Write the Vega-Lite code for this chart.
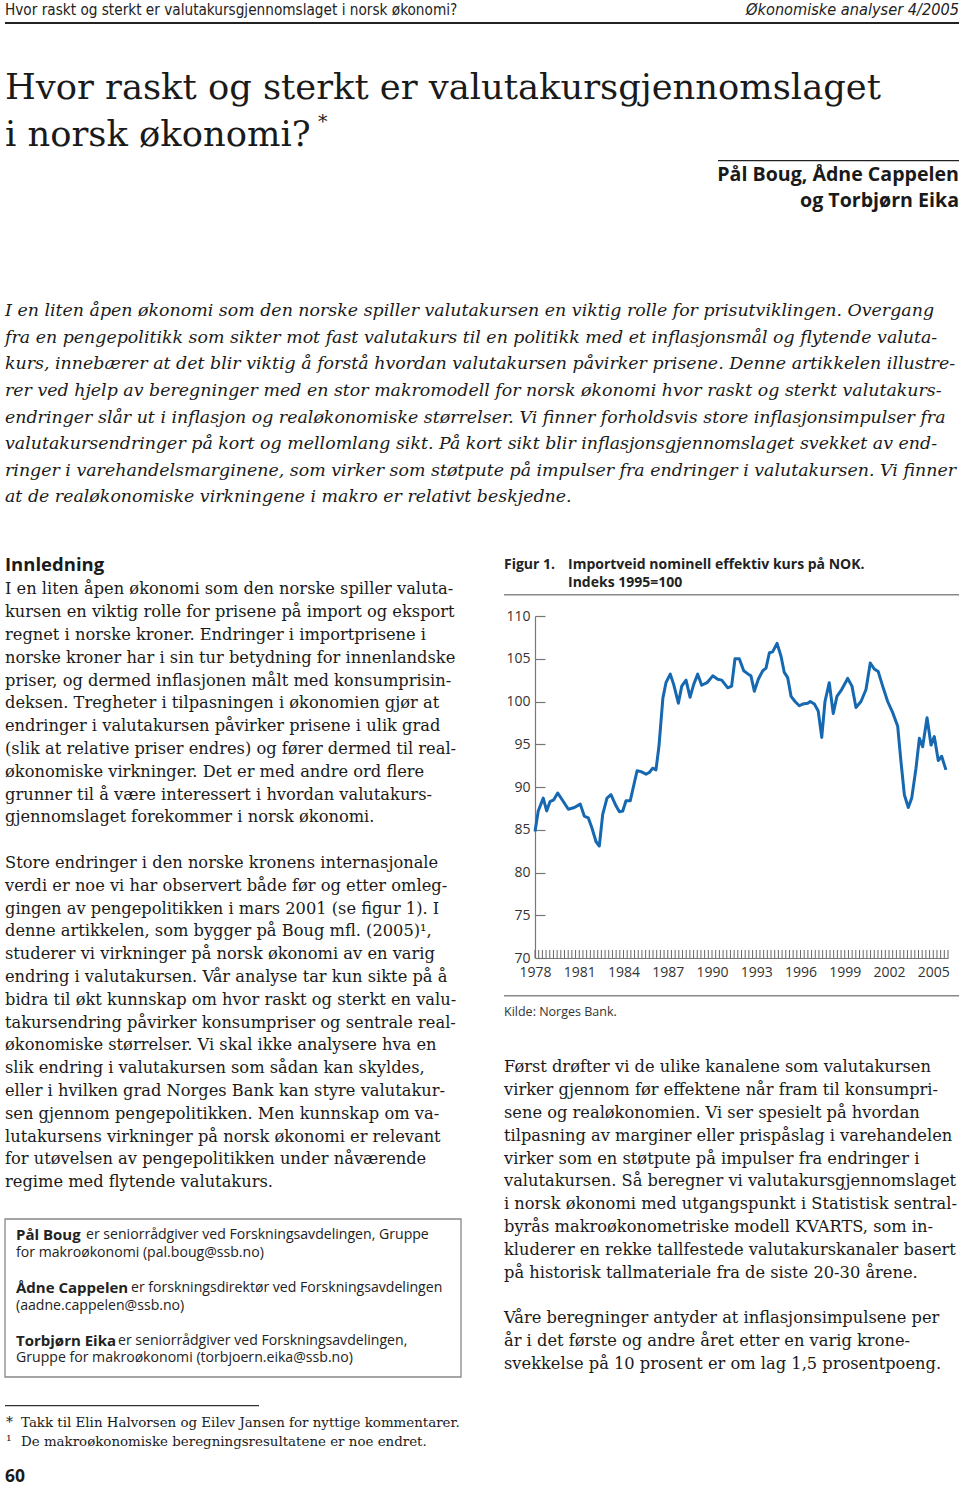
{
  "$schema": "https://vega.github.io/schema/vega-lite/v6.json",
  "padding": {"left": 4, "top": 0, "right": 0, "bottom": 0},
  "background": "white",
  "config": {"view": {"stroke": null}},
  "spacing": 0,
  "bounds": "flush",
  "vconcat": [
    {
      "width": 954, "height": 22,
      "data": {"values": [{"line": 0, "l": "Hvor raskt og sterkt er valutakursgjennomslaget i norsk økonomi?", "r": "Økonomiske analyser 4/2005"}]},
      "layer": [
        {"mark": {"type": "text", "align": "left", "baseline": "middle", "x": 0, "dy": -1.5, "font": "DejaVu Sans Condensed, DejaVu Sans", "fontSize": 15.2, "color": "#222"}, "encoding": {"y": {"field": "line", "type": "ordinal", "axis": null}, "text": {"field": "l"}}},
        {"mark": {"type": "text", "align": "right", "baseline": "middle", "x": "width", "dy": -1.5, "font": "DejaVu Sans Condensed, DejaVu Sans", "fontStyle": "italic", "fontSize": 16.2, "color": "#222"}, "encoding": {"y": {"field": "line", "type": "ordinal", "axis": null}, "text": {"field": "r"}}}
      ]
    },
    {"width": 954, "height": 2, "data": {"values": [{}]}, "mark": {"type": "rect", "x": 0, "x2": "width", "y": 0, "y2": "height", "color": "#222"}},
    {"width": 1, "height": 39.7, "data": {"values": []}, "mark": "text"},
    {
      "width": 954, "height": 94,
      "layer": [
        {
          "data": {"values": [{"line": 0, "text": "Hvor raskt og sterkt er valutakursgjennomslaget"}, {"line": 1, "text": "i norsk økonomi?"}]},
          "mark": {"type": "text", "align": "left", "baseline": "middle", "x": 0, "font": "DejaVu Serif", "fontSize": 35.3, "color": "#1a1a1a"},
          "encoding": {"y": {"field": "line", "type": "ordinal", "axis": null}, "text": {"field": "text"}}
        },
        {
          "data": {"values": [{"line": 1, "text": "*"}]},
          "mark": {"type": "text", "align": "left", "baseline": "middle", "x": 0, "dx": 313, "dy": -13, "font": "DejaVu Serif", "fontSize": 19, "color": "#1a1a1a"},
          "encoding": {"y": {"field": "line", "type": "ordinal", "axis": null}, "text": {"field": "text"}}
        }
      ]
    },
    {"width": 1, "height": 1.8, "data": {"values": []}, "mark": "text"},
    {
      "hconcat": [
        {"width": 713, "height": 1, "data": {"values": []}, "mark": "text"},
        {
          "vconcat": [
            {"width": 241, "height": 1.2, "data": {"values": [{}]}, "mark": {"type": "rect", "x": 0, "x2": "width", "y": 0, "y2": "height", "color": "#222"}},
            {
              "width": 241, "height": 52,
              "data": {"values": [{"line": 0, "text": "Pål Boug, Ådne Cappelen"}, {"line": 1, "text": "og Torbjørn Eika"}]},
              "mark": {"type": "text", "align": "right", "baseline": "middle", "x": "width", "font": "Open Sans", "fontWeight": "bold", "fontSize": 19.6, "color": "#1a1a1a"},
              "encoding": {"y": {"field": "line", "type": "ordinal", "axis": null}, "text": {"field": "text"}}
            }
          ],
          "spacing": 0, "bounds": "flush"
        }
      ],
      "spacing": 0, "bounds": "flush"
    },
    {"width": 1, "height": 138, "data": {"values": []}, "mark": "text"},
    {
      "width": 954, "height": 212.6,
      "data": {"values": [
        {"line": 0, "text": "I en liten åpen økonomi som den norske spiller valutakursen en viktig rolle for prisutviklingen. Overgang"},
        {"line": 1, "text": "fra en pengepolitikk som sikter mot fast valutakurs til en politikk med et inflasjonsmål og flytende valuta-"},
        {"line": 2, "text": "kurs, innebærer at det blir viktig å forstå hvordan valutakursen påvirker prisene. Denne artikkelen illustre-"},
        {"line": 3, "text": "rer ved hjelp av beregninger med en stor makromodell for norsk økonomi hvor raskt og sterkt valutakurs-"},
        {"line": 4, "text": "endringer slår ut i inflasjon og realøkonomiske størrelser. Vi finner forholdsvis store inflasjonsimpulser fra"},
        {"line": 5, "text": "valutakursendringer på kort og mellomlang sikt. På kort sikt blir inflasjonsgjennomslaget svekket av end-"},
        {"line": 6, "text": "ringer i varehandelsmarginene, som virker som støtpute på impulser fra endringer i valutakursen. Vi finner"},
        {"line": 7, "text": "at de realøkonomiske virkningene i makro er relativt beskjedne."}
      ]},
      "mark": {"type": "text", "align": "left", "baseline": "middle", "x": 0, "font": "DejaVu Serif", "fontStyle": "italic", "fontSize": 17.4, "color": "#1a1a1a"},
      "encoding": {"y": {"field": "line", "type": "ordinal", "axis": null}, "text": {"field": "text"}}
    },
    {
      "hconcat": [
        {
          "vconcat": [
            {"width": 1, "height": 43.9, "data": {"values": []}, "mark": "text"},
            {
              "width": 456, "height": 20,
              "data": {"values": [{"line": 0, "text": "Innledning"}]},
              "mark": {"type": "text", "align": "left", "baseline": "middle", "x": 0, "font": "Open Sans", "fontWeight": "bold", "fontSize": 18.5, "color": "#1a1a1a"},
              "encoding": {"y": {"field": "line", "type": "ordinal", "axis": null}, "text": {"field": "text"}}
            },
            {"width": 1, "height": 2.9, "data": {"values": []}, "mark": "text"},
            {
              "width": 456, "height": 615.6,
              "data": {"values": [
                {"line": 0, "text": "I en liten åpen økonomi som den norske spiller valuta-"},
                {"line": 1, "text": "kursen en viktig rolle for prisene på import og eksport"},
                {"line": 2, "text": "regnet i norske kroner. Endringer i importprisene i"},
                {"line": 3, "text": "norske kroner har i sin tur betydning for innenlandske"},
                {"line": 4, "text": "priser, og dermed inflasjonen målt med konsumprisin-"},
                {"line": 5, "text": "deksen. Tregheter i tilpasningen i økonomien gjør at"},
                {"line": 6, "text": "endringer i valutakursen påvirker prisene i ulik grad"},
                {"line": 7, "text": "(slik at relative priser endres) og fører dermed til real-"},
                {"line": 8, "text": "økonomiske virkninger. Det er med andre ord flere"},
                {"line": 9, "text": "grunner til å være interessert i hvordan valutakurs-"},
                {"line": 10, "text": "gjennomslaget forekommer i norsk økonomi."},
                {"line": 11, "text": ""},
                {"line": 12, "text": "Store endringer i den norske kronens internasjonale"},
                {"line": 13, "text": "verdi er noe vi har observert både før og etter omleg-"},
                {"line": 14, "text": "gingen av pengepolitikken i mars 2001 (se figur 1). I"},
                {"line": 15, "text": "denne artikkelen, som bygger på Boug mfl. (2005)¹,"},
                {"line": 16, "text": "studerer vi virkninger på norsk økonomi av en varig"},
                {"line": 17, "text": "endring i valutakursen. Vår analyse tar kun sikte på å"},
                {"line": 18, "text": "bidra til økt kunnskap om hvor raskt og sterkt en valu-"},
                {"line": 19, "text": "takursendring påvirker konsumpriser og sentrale real-"},
                {"line": 20, "text": "økonomiske størrelser. Vi skal ikke analysere hva en"},
                {"line": 21, "text": "slik endring i valutakursen som sådan kan skyldes,"},
                {"line": 22, "text": "eller i hvilken grad Norges Bank kan styre valutakur-"},
                {"line": 23, "text": "sen gjennom pengepolitikken. Men kunnskap om va-"},
                {"line": 24, "text": "lutakursens virkninger på norsk økonomi er relevant"},
                {"line": 25, "text": "for utøvelsen av pengepolitikken under nåværende"},
                {"line": 26, "text": "regime med flytende valutakurs."}
              ]},
              "mark": {"type": "text", "align": "left", "baseline": "middle", "x": 0, "font": "DejaVu Serif", "fontSize": 16.25, "color": "#1a1a1a"},
              "encoding": {"y": {"field": "line", "type": "ordinal", "axis": null}, "text": {"field": "text"}}
            },
            {"width": 1, "height": 24.5, "data": {"values": []}, "mark": "text"},
            {
              "width": 456, "height": 158,
              "layer": [
                {"data": {"values": [{}]}, "mark": {"type": "rect", "x": 0, "x2": "width", "y": 0, "y2": "height", "fill": "white", "fillOpacity": 0, "stroke": "#888", "strokeWidth": 1.3}},
                {
                  "data": {"values": [{"line": 0, "t": "Pål Boug"}, {"line": 3, "t": "Ådne Cappelen"}, {"line": 6, "t": "Torbjørn Eika"}]},
                  "mark": {"type": "text", "align": "left", "baseline": "middle", "x": 0, "dx": 11, "font": "Open Sans", "fontWeight": "bold", "fontSize": 15, "color": "#222"},
                  "encoding": {"y": {"field": "line", "type": "ordinal", "axis": null, "scale": {"domain": [0, 1, 2, 3, 4, 5, 6, 7], "padding": 0.981, "align": 0.465}}, "text": {"field": "t"}}
                },
                {
                  "data": {"values": [{"line": 0, "t": "er seniorrådgiver ved Forskningsavdelingen, Gruppe"}]},
                  "mark": {"type": "text", "align": "left", "baseline": "middle", "x": 0, "dx": 81, "font": "Open Sans", "fontSize": 14.1, "color": "#222"},
                  "encoding": {"y": {"field": "line", "type": "ordinal", "axis": null, "scale": {"domain": [0, 1, 2, 3, 4, 5, 6, 7], "padding": 0.981, "align": 0.465}}, "text": {"field": "t"}}
                },
                {
                  "data": {"values": [{"line": 3, "t": "er forskningsdirektør ved Forskningsavdelingen"}]},
                  "mark": {"type": "text", "align": "left", "baseline": "middle", "x": 0, "dx": 126, "font": "Open Sans", "fontSize": 14.1, "color": "#222"},
                  "encoding": {"y": {"field": "line", "type": "ordinal", "axis": null, "scale": {"domain": [0, 1, 2, 3, 4, 5, 6, 7], "padding": 0.981, "align": 0.465}}, "text": {"field": "t"}}
                },
                {
                  "data": {"values": [{"line": 6, "t": "er seniorrådgiver ved Forskningsavdelingen,"}]},
                  "mark": {"type": "text", "align": "left", "baseline": "middle", "x": 0, "dx": 113, "font": "Open Sans", "fontSize": 14.1, "color": "#222"},
                  "encoding": {"y": {"field": "line", "type": "ordinal", "axis": null, "scale": {"domain": [0, 1, 2, 3, 4, 5, 6, 7], "padding": 0.981, "align": 0.465}}, "text": {"field": "t"}}
                },
                {
                  "data": {"values": [{"line": 1, "t": "for makroøkonomi (pal.boug@ssb.no)"}, {"line": 4, "t": "(aadne.cappelen@ssb.no)"}, {"line": 7, "t": "Gruppe for makroøkonomi (torbjoern.eika@ssb.no)"}]},
                  "mark": {"type": "text", "align": "left", "baseline": "middle", "x": 0, "dx": 11, "font": "Open Sans", "fontSize": 14.1, "color": "#222"},
                  "encoding": {"y": {"field": "line", "type": "ordinal", "axis": null, "scale": {"domain": [0, 1, 2, 3, 4, 5, 6, 7], "padding": 0.981, "align": 0.465}}, "text": {"field": "t"}}
                }
              ]
            },
            {"width": 1, "height": 27.4, "data": {"values": []}, "mark": "text"},
            {"width": 254, "height": 1.2, "data": {"values": [{}]}, "mark": {"type": "rect", "x": 0, "x2": "width", "y": 0, "y2": "height", "color": "#333"}},
            {"width": 1, "height": 5.5, "data": {"values": []}, "mark": "text"},
            {
              "width": 456, "height": 38,
              "data": {"values": [
                {"line": 0, "m": "*", "text": "Takk til Elin Halvorsen og Eilev Jansen for nyttige kommentarer."},
                {"line": 1, "m": "¹", "text": "De makroøkonomiske beregningsresultatene er noe endret."}
              ]},
              "layer": [
                {"mark": {"type": "text", "align": "left", "baseline": "middle", "x": 0, "dx": 1, "font": "DejaVu Serif", "fontSize": 14, "color": "#1a1a1a"}, "encoding": {"y": {"field": "line", "type": "ordinal", "axis": null}, "text": {"field": "m"}}},
                {"mark": {"type": "text", "align": "left", "baseline": "middle", "x": 0, "dx": 16, "font": "DejaVu Serif", "fontSize": 13.4, "color": "#1a1a1a"}, "encoding": {"y": {"field": "line", "type": "ordinal", "axis": null}, "text": {"field": "text"}}}
              ]
            },
            {"width": 1, "height": 17.9, "data": {"values": []}, "mark": "text"},
            {
              "width": 100, "height": 16,
              "data": {"values": [{"line": 0, "text": "60"}]},
              "mark": {"type": "text", "align": "left", "baseline": "middle", "x": 0, "font": "Open Sans", "fontWeight": "bold", "fontSize": 17.5, "color": "#1a1a1a"},
              "encoding": {"y": {"field": "line", "type": "ordinal", "axis": null}, "text": {"field": "text"}}
            },
            {"width": 1, "height": 4, "data": {"values": []}, "mark": "text"}
          ],
          "spacing": 0, "bounds": "flush"
        },
        {
          "vconcat": [
            {"width": 1, "height": 44.7, "data": {"values": []}, "mark": "text"},
            {
              "width": 455, "height": 36,
              "data": {"values": [{"line": 0, "label": "Figur 1.", "text": "Importveid nominell effektiv kurs på NOK."}, {"line": 1, "label": "", "text": "Indeks 1995=100"}]},
              "layer": [
                {"mark": {"type": "text", "align": "left", "baseline": "middle", "x": 0, "font": "Open Sans", "fontWeight": "bold", "fontSize": 14, "color": "#222"}, "encoding": {"y": {"field": "line", "type": "ordinal", "axis": null}, "text": {"field": "label"}}},
                {"mark": {"type": "text", "align": "left", "baseline": "middle", "x": 0, "dx": 64, "font": "Open Sans", "fontWeight": "bold", "fontSize": 14, "color": "#222"}, "encoding": {"y": {"field": "line", "type": "ordinal", "axis": null}, "text": {"field": "text"}}}
              ]
            },
            {"width": 1, "height": 1.5, "data": {"values": []}, "mark": "text"},
            {"width": 455, "height": 1.5, "data": {"values": [{}]}, "mark": {"type": "rect", "x": 0, "x2": "width", "y": 0, "y2": "height", "color": "#888"}},
            {"width": 1, "height": 19.2, "data": {"values": []}, "mark": "text"},
            {
              "hconcat": [
                {"width": 31, "height": 1, "data": {"values": []}, "mark": "text"},
                {
                  "width": 413, "height": 342,
                  "layer": [
                    {
                      "data": {"values": [
                        {"q": 1978}, {"q": 1978.25}, {"q": 1978.5}, {"q": 1978.75}, {"q": 1979}, {"q": 1979.25}, {"q": 1979.5}, {"q": 1979.75},
                        {"q": 1980}, {"q": 1980.25}, {"q": 1980.5}, {"q": 1980.75}, {"q": 1981}, {"q": 1981.25}, {"q": 1981.5}, {"q": 1981.75},
                        {"q": 1982}, {"q": 1982.25}, {"q": 1982.5}, {"q": 1982.75}, {"q": 1983}, {"q": 1983.25}, {"q": 1983.5}, {"q": 1983.75},
                        {"q": 1984}, {"q": 1984.25}, {"q": 1984.5}, {"q": 1984.75}, {"q": 1985}, {"q": 1985.25}, {"q": 1985.5}, {"q": 1985.75},
                        {"q": 1986}, {"q": 1986.25}, {"q": 1986.5}, {"q": 1986.75}, {"q": 1987}, {"q": 1987.25}, {"q": 1987.5}, {"q": 1987.75},
                        {"q": 1988}, {"q": 1988.25}, {"q": 1988.5}, {"q": 1988.75}, {"q": 1989}, {"q": 1989.25}, {"q": 1989.5}, {"q": 1989.75},
                        {"q": 1990}, {"q": 1990.25}, {"q": 1990.5}, {"q": 1990.75}, {"q": 1991}, {"q": 1991.25}, {"q": 1991.5}, {"q": 1991.75},
                        {"q": 1992}, {"q": 1992.25}, {"q": 1992.5}, {"q": 1992.75}, {"q": 1993}, {"q": 1993.25}, {"q": 1993.5}, {"q": 1993.75},
                        {"q": 1994}, {"q": 1994.25}, {"q": 1994.5}, {"q": 1994.75}, {"q": 1995}, {"q": 1995.25}, {"q": 1995.5}, {"q": 1995.75},
                        {"q": 1996}, {"q": 1996.25}, {"q": 1996.5}, {"q": 1996.75}, {"q": 1997}, {"q": 1997.25}, {"q": 1997.5}, {"q": 1997.75},
                        {"q": 1998}, {"q": 1998.25}, {"q": 1998.5}, {"q": 1998.75}, {"q": 1999}, {"q": 1999.25}, {"q": 1999.5}, {"q": 1999.75},
                        {"q": 2000}, {"q": 2000.25}, {"q": 2000.5}, {"q": 2000.75}, {"q": 2001}, {"q": 2001.25}, {"q": 2001.5}, {"q": 2001.75},
                        {"q": 2002}, {"q": 2002.25}, {"q": 2002.5}, {"q": 2002.75}, {"q": 2003}, {"q": 2003.25}, {"q": 2003.5}, {"q": 2003.75},
                        {"q": 2004}, {"q": 2004.25}, {"q": 2004.5}, {"q": 2004.75}, {"q": 2005}, {"q": 2005.25}, {"q": 2005.5}, {"q": 2005.75},
                        {"q": 2006}
                      ]},
                      "mark": {"type": "rule", "color": "#666", "strokeWidth": 1},
                      "encoding": {
                        "x": {"field": "q", "type": "quantitative"},
                        "y": {"datum": 70},
                        "y2": {"datum": 70.94}
                      }
                    },
                    {
                      "data": {"values": [
                        {"year": 1978.00, "value": 84.8}, {"year": 1978.22, "value": 87.2}, {"year": 1978.56, "value": 88.7}, {"year": 1978.79, "value": 87.2},
                        {"year": 1979.02, "value": 88.3}, {"year": 1979.27, "value": 88.5}, {"year": 1979.54, "value": 89.3}, {"year": 1979.92, "value": 88.3},
                        {"year": 1980.26, "value": 87.4}, {"year": 1980.67, "value": 87.6}, {"year": 1981.07, "value": 88.0}, {"year": 1981.34, "value": 86.6},
                        {"year": 1981.61, "value": 86.4}, {"year": 1981.86, "value": 85.2}, {"year": 1982.14, "value": 83.6}, {"year": 1982.36, "value": 83.1},
                        {"year": 1982.59, "value": 86.8}, {"year": 1982.88, "value": 88.7}, {"year": 1983.15, "value": 89.1}, {"year": 1983.49, "value": 87.8},
                        {"year": 1983.72, "value": 87.1}, {"year": 1983.95, "value": 87.2}, {"year": 1984.17, "value": 88.4}, {"year": 1984.46, "value": 88.4},
                        {"year": 1984.92, "value": 91.9}, {"year": 1985.19, "value": 91.8}, {"year": 1985.53, "value": 91.5}, {"year": 1985.75, "value": 91.7},
                        {"year": 1985.98, "value": 92.2}, {"year": 1986.20, "value": 92.0}, {"year": 1986.40, "value": 94.7}, {"year": 1986.67, "value": 100.4},
                        {"year": 1986.88, "value": 102.2}, {"year": 1987.17, "value": 103.2}, {"year": 1987.40, "value": 102.0}, {"year": 1987.72, "value": 99.8},
                        {"year": 1987.95, "value": 101.8}, {"year": 1988.24, "value": 102.5}, {"year": 1988.51, "value": 100.5}, {"year": 1988.76, "value": 102.0},
                        {"year": 1989.03, "value": 103.2}, {"year": 1989.30, "value": 101.9}, {"year": 1989.66, "value": 102.2}, {"year": 1990.05, "value": 103.0},
                        {"year": 1990.39, "value": 102.6}, {"year": 1990.66, "value": 102.5}, {"year": 1991.07, "value": 101.6}, {"year": 1991.33, "value": 101.8},
                        {"year": 1991.56, "value": 105.0}, {"year": 1991.85, "value": 105.0}, {"year": 1992.15, "value": 103.6}, {"year": 1992.46, "value": 103.2},
                        {"year": 1992.64, "value": 103.0}, {"year": 1992.87, "value": 101.2}, {"year": 1993.14, "value": 102.6}, {"year": 1993.44, "value": 103.6},
                        {"year": 1993.66, "value": 103.9}, {"year": 1993.89, "value": 105.7}, {"year": 1994.11, "value": 105.8}, {"year": 1994.41, "value": 106.8},
                        {"year": 1994.68, "value": 105.3}, {"year": 1994.90, "value": 103.4}, {"year": 1995.13, "value": 102.8}, {"year": 1995.36, "value": 100.6},
                        {"year": 1995.63, "value": 100.0}, {"year": 1995.92, "value": 99.5}, {"year": 1996.15, "value": 99.7}, {"year": 1996.49, "value": 99.8},
                        {"year": 1996.66, "value": 100.0}, {"year": 1996.94, "value": 99.7}, {"year": 1997.20, "value": 98.9}, {"year": 1997.44, "value": 95.8},
                        {"year": 1997.66, "value": 100.0}, {"year": 1997.95, "value": 102.2}, {"year": 1998.22, "value": 98.6}, {"year": 1998.47, "value": 100.6},
                        {"year": 1998.79, "value": 101.4}, {"year": 1999.20, "value": 102.7}, {"year": 1999.49, "value": 101.8}, {"year": 1999.76, "value": 99.3},
                        {"year": 2000.10, "value": 100.0}, {"year": 2000.44, "value": 101.4}, {"year": 2000.73, "value": 104.5}, {"year": 2001.00, "value": 103.8},
                        {"year": 2001.27, "value": 103.5}, {"year": 2001.57, "value": 101.8}, {"year": 2001.91, "value": 100.0}, {"year": 2002.25, "value": 98.7},
                        {"year": 2002.59, "value": 97.1}, {"year": 2002.81, "value": 93.0}, {"year": 2003.04, "value": 89.1}, {"year": 2003.31, "value": 87.6},
                        {"year": 2003.54, "value": 88.7}, {"year": 2003.83, "value": 92.2}, {"year": 2004.06, "value": 95.7}, {"year": 2004.28, "value": 94.7},
                        {"year": 2004.58, "value": 98.1}, {"year": 2004.85, "value": 94.9}, {"year": 2005.07, "value": 95.9}, {"year": 2005.34, "value": 93.1},
                        {"year": 2005.57, "value": 93.6}, {"year": 2005.86, "value": 92.0}
                      ]},
                      "mark": {"type": "line", "color": "#1668b0", "strokeWidth": 3, "strokeJoin": "round"},
                      "encoding": {
                        "x": {
                          "field": "year", "type": "quantitative",
                          "scale": {"domain": [1978, 2006], "nice": false, "zero": false},
                          "axis": {
                            "title": null, "grid": false, "format": "d",
                            "values": [1978, 1981, 1984, 1987, 1990, 1993, 1996, 1999, 2002, 2005],
                            "labelOverlap": false, "labelFlush": false, "labelBound": false,
                            "tickSize": -8, "tickOpacity": 0, "labelPadding": 15,
                            "labelFont": "Open Sans", "labelFontSize": 14, "labelColor": "#333",
                            "domainColor": "#777", "domainWidth": 1.2
                          }
                        },
                        "y": {
                          "field": "value", "type": "quantitative",
                          "scale": {"domain": [70, 110], "nice": false, "zero": false},
                          "axis": {
                            "title": null, "grid": false,
                            "values": [70, 75, 80, 85, 90, 95, 100, 105, 110],
                            "tickSize": -10, "labelPadding": 15,
                            "labelFont": "Open Sans", "labelFontSize": 14, "labelColor": "#333",
                            "domainColor": "#777", "tickColor": "#777", "tickWidth": 1.2, "domainWidth": 1.2
                          }
                        }
                      }
                    }
                  ]
                }
              ],
              "spacing": 0, "bounds": "flush"
            },
            {"width": 1, "height": 379, "data": {"values": []}, "mark": "text"},
            {"width": 455, "height": 1.5, "data": {"values": [{}]}, "mark": {"type": "rect", "x": 0, "x2": "width", "y": 0, "y2": "height", "color": "#888"}},
            {"width": 1, "height": 4.5, "data": {"values": []}, "mark": "text"},
            {
              "width": 455, "height": 20,
              "data": {"values": [{"line": 0, "text": "Kilde: Norges Bank."}]},
              "mark": {"type": "text", "align": "left", "baseline": "middle", "x": 0, "font": "Open Sans", "fontSize": 12.5, "color": "#333"},
              "encoding": {"y": {"field": "line", "type": "ordinal", "axis": null}, "text": {"field": "text"}}
            },
            {"width": 1, "height": 33.6, "data": {"values": []}, "mark": "text"},
            {
              "width": 455, "height": 319.2,
              "data": {"values": [
                {"line": 0, "text": "Først drøfter vi de ulike kanalene som valutakursen"},
                {"line": 1, "text": "virker gjennom før effektene når fram til konsumpri-"},
                {"line": 2, "text": "sene og realøkonomien. Vi ser spesielt på hvordan"},
                {"line": 3, "text": "tilpasning av marginer eller prispåslag i varehandelen"},
                {"line": 4, "text": "virker som en støtpute på impulser fra endringer i"},
                {"line": 5, "text": "valutakursen. Så beregner vi valutakursgjennomslaget"},
                {"line": 6, "text": "i norsk økonomi med utgangspunkt i Statistisk sentral-"},
                {"line": 7, "text": "byrås makroøkonometriske modell KVARTS, som in-"},
                {"line": 8, "text": "kluderer en rekke tallfestede valutakurskanaler basert"},
                {"line": 9, "text": "på historisk tallmateriale fra de siste 20-30 årene."},
                {"line": 10, "text": ""},
                {"line": 11, "text": "Våre beregninger antyder at inflasjonsimpulsene per"},
                {"line": 12, "text": "år i det første og andre året etter en varig krone-"},
                {"line": 13, "text": "svekkelse på 10 prosent er om lag 1,5 prosentpoeng."}
              ]},
              "mark": {"type": "text", "align": "left", "baseline": "middle", "x": 0, "font": "DejaVu Serif", "fontSize": 16.25, "color": "#1a1a1a"},
              "encoding": {"y": {"field": "line", "type": "ordinal", "axis": null}, "text": {"field": "text"}}
            }
          ],
          "spacing": 0, "bounds": "flush"
        }
      ],
      "spacing": 499, "bounds": "flush"
    }
  ]
}
